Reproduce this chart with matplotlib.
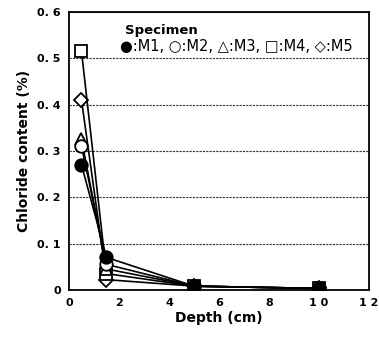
import numpy as np
import matplotlib
matplotlib.use("Agg")
import matplotlib.pyplot as plt

# depth (cm) and chloride content (%) per specimen
depth = [0.5, 1.5, 5, 10]
m1 = [0.27, 0.070, 0.008, 0.003]
m2 = [0.31, 0.055, 0.008, 0.003]
m3 = [0.325, 0.045, 0.008, 0.003]
m4 = [0.515, 0.035, 0.008, 0.003]
m5 = [0.41, 0.022, 0.008, 0.003]

# drawn so that the filled M1 ends up on top
series = [(m5, 'D', 'white'), (m4, 's', 'white'), (m3, '^', 'white'),
          (m2, 'o', 'white'), (m1, 'o', 'black')]

plt.rcParams['font.family'] = ['DejaVu Sans']
fig = plt.figure(figsize=(3.79, 3.39), dpi=100)
ax = fig.add_axes([0.182, 0.145, 0.792, 0.820])

for vals, mk, fc in series:
    ms = 7.5 if mk == 'D' else 9
    ax.plot(depth, vals, color='black', lw=1.2, marker=mk, ms=ms,
            mfc=fc, mec='black', mew=1.3, zorder=3)

ax.set_xlim(0, 12)
ax.set_ylim(0, 0.6)
ax.set_xticks(range(0, 13, 2))
ax.set_xticklabels(['0', '2', '4', '6', '8', '1 0', '1 2'], fontsize=8, fontweight='bold')
ax.set_yticks(np.arange(0, 0.61, 0.1))
ax.set_yticklabels(['0', '0. 1', '0. 2', '0. 3', '0. 4', '0. 5', '0. 6'], fontsize=8, fontweight='bold')
ax.tick_params(length=0, pad=6)
ax.yaxis.grid(True, color='#333333', linestyle=(0, (2, 1)), lw=0.8)
for s in ax.spines.values():
    s.set_linewidth(1.3)

ax.set_xlabel('Depth (cm)', fontsize=10, fontweight='bold', labelpad=2)
ax.set_ylabel('Chloride content (%)', fontsize=10, fontweight='bold', labelpad=4)

ax.text(2.25, 0.56, 'Specimen', fontsize=9.5, fontweight='bold', va='center')
ax.text(2.05, 0.525, '●:M1, ○:M2, △:M3, □:M4, ◇:M5', fontsize=10.5,
        va='center')

fig.savefig('out.png', dpi=100)
